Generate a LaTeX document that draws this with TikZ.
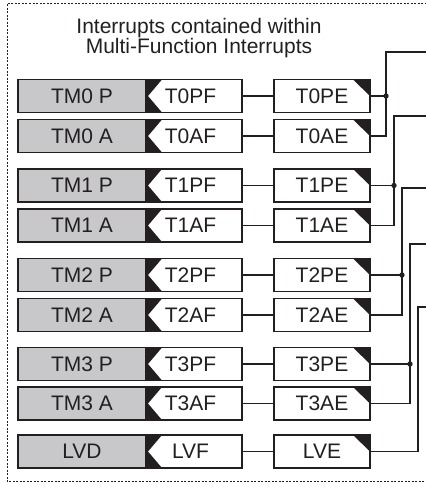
\documentclass[tikz,border=0pt]{standalone}
\usepackage{fontspec}
\setmainfont{Liberation Sans}
\definecolor{ink}{HTML}{231F20}
\definecolor{boxgrey}{HTML}{C8C8CA}
\tikzset{
  every node/.style={font=\fontsize{21}{20}\selectfont, text=ink},
  srcbox/.style={draw=ink, fill=boxgrey, line width=1.3pt, inner sep=0pt,
    minimum width=128pt, minimum height=33pt},
  flagbox/.style={draw=ink, fill=white, line width=1.3pt, inner sep=0pt,
    minimum width=96pt, minimum height=33pt,
    execute at begin node={\hspace*{-7pt}},
    path picture={\fill[ink] (path picture bounding box.north west) -- ++(16,0)
      -- ([xshift=2pt]path picture bounding box.west)
      -- ([xshift=16pt]path picture bounding box.south west)
      -- (path picture bounding box.south west) -- cycle;}},
  enbox/.style={draw=ink, fill=white, line width=1.3pt, inner sep=0pt,
    minimum width=96pt, minimum height=33pt,
    path picture={\fill[ink] (path picture bounding box.north east)
      -- ([xshift=-17pt]path picture bounding box.north east)
      -- (path picture bounding box.east) -- cycle;}},
  wire/.style={draw=ink, line width=1.2pt},
  frame/.style={draw=ink, line width=1pt, dash pattern=on 2pt off 1.5pt}
}
\begin{document}
\begin{tikzpicture}[x=1pt,y=-1pt]
  \useasboundingbox (0,0) rectangle (426,483);
  % Frame
  \draw[frame] (430,3.5) -- (7,3.5) -- (7,481.5) -- (430,481.5);
  \node[align=center] (title) at (199,38) {Interrupts contained within\\Multi-Function Interrupts};
  % Rows
  \foreach \n/\y/\src/\flag/\en in {0/96/TM0 P/T0PF/T0PE, 1/136/TM0 A/T0AF/T0AE,
      2/185.5/TM1 P/T1PF/T1PE, 3/225.5/TM1 A/T1AF/T1AE,
      4/275/TM2 P/T2PF/T2PE, 5/315/TM2 A/T2AF/T2AE,
      6/364/TM3 P/T3PF/T3PE, 7/403.5/TM3 A/T3AF/T3AE,
      8/451.5/LVD/LVF/LVE}{
    \node[srcbox] (s\n) at (82,\y) {\src};
    \node[flagbox] (f\n) at (194,\y) {\flag};
    \node[enbox] (e\n) at (322,\y) {\en};
    \draw[wire] (f\n) -- (e\n);
  }
  % Outputs
  \foreach \p/\a/\bx/\top in {0/1/386/52, 2/3/394/116, 4/5/402/188, 6/7/410/244}{
    \coordinate (bus\p) at (\bx,\top);
    \coordinate (out\p) at (430,\top);
    \draw[wire] (e\a.east) -| (bus\p) -- (out\p);
    \draw[wire] (e\p.east) -- (e\p.east -| bus\p);
    \fill[ink] (e\p.east -| bus\p) circle (2.7pt);
  }
  \coordinate (bus8) at (418,307);
  \coordinate (out8) at (430,307);
  \draw[wire] (e8.east) -| (bus8) -- (out8);
\end{tikzpicture}
\end{document}
